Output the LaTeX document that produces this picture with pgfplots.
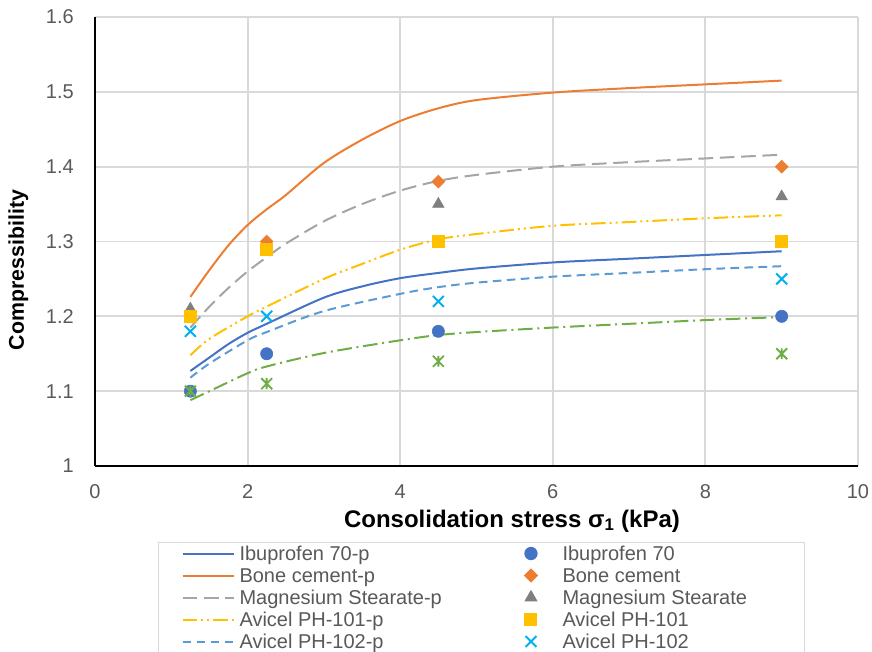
\documentclass[border=0pt]{standalone}
\usepackage{pgfplots}
\pgfplotsset{compat=1.18}
\usepackage{fontspec}
\setmainfont{Liberation Sans}

\definecolor{cIbu}{HTML}{4472C4}
\definecolor{cBone}{HTML}{ED7D31}
\definecolor{cMgLine}{HTML}{A5A5A5}
\definecolor{cMgMark}{HTML}{7F7F7F}
\definecolor{cAvA}{HTML}{FFC000}
\definecolor{cAvBLine}{HTML}{5B9BD5}
\definecolor{cAvBMark}{HTML}{00B0F0}
\definecolor{cGreen}{HTML}{70AD47}
\definecolor{cGrid}{HTML}{D9D9D9}
\definecolor{cTick}{HTML}{595959}

% cross with a vertical bar through it
\pgfdeclareplotmark{xstar}{%
  \pgfpathmoveto{\pgfqpoint{-.707\pgfplotmarksize}{-.707\pgfplotmarksize}}%
  \pgfpathlineto{\pgfqpoint{.707\pgfplotmarksize}{.707\pgfplotmarksize}}%
  \pgfpathmoveto{\pgfqpoint{-.707\pgfplotmarksize}{.707\pgfplotmarksize}}%
  \pgfpathlineto{\pgfqpoint{.707\pgfplotmarksize}{-.707\pgfplotmarksize}}%
  \pgfpathmoveto{\pgfqpoint{0pt}{-.707\pgfplotmarksize}}%
  \pgfpathlineto{\pgfqpoint{0pt}{.707\pgfplotmarksize}}%
  \pgfusepathqstroke}

\pgfplotsset{
  fitleg/.style={legend image code/.code={%
    \path[draw=none, fill=none] (0pt,-4pt) rectangle (42.75pt,4pt);
    \draw[##1] (0pt,0pt) -- (38.25pt,0pt);}},
  markleg/.style={legend image code/.code={%
    \path[draw=none, fill=none] (0pt,-4pt) rectangle (42.75pt,4pt);
    \draw[##1] plot coordinates {(19.1pt,0pt)};}},
  fit/.style={no marks, smooth, line width=1.5pt, line cap=butt, fitleg},
  pts/.style={only marks, markleg},
}

\begin{document}
\begin{tikzpicture}
\begin{axis}[
  scale only axis,
  width=572.25pt, height=336.75pt,
  xmin=0, xmax=10, ymin=1, ymax=1.6,
  xtick={0,2,4,6,8,10},
  ytick={1,1.1,1.2,1.3,1.4,1.5,1.6},
  axis x line*=bottom, axis y line*=left,
  axis line style={-, black, line width=0.9pt},
  grid=major,
  major grid style={draw=cGrid, line width=1.4pt},
  major tick length=0pt,
  /pgf/number format/assume math mode=true,
  tick label style={font=\fontsize{15}{18}\selectfont, text=cTick},
  xticklabel style={anchor=north, inner sep=0pt, yshift=-13.5pt},
  yticklabel style={anchor=east, inner sep=0pt, xshift=-15.75pt},
  xlabel={Consolidation stress σ\textsubscript{1} (kPa)},
  ylabel={Compressibility},
  xlabel style={at={(axis description cs:0.5465,-0.1225)}, anchor=center,
    font=\bfseries\fontsize{18}{21}\selectfont},
  ylabel style={at={(axis description cs:-0.1003,0.4365)}, anchor=center,
    font=\bfseries\fontsize{16}{19}\selectfont},
  legend columns=5,
  transpose legend,
  legend cell align=left,
  legend style={
    at={(axis description cs:0.0826,-0.1693)}, anchor=north west,
    draw=cGrid, line width=0.75pt,
    inner xsep=17.25pt, inner ysep=0pt,
    row sep=0pt, column sep=0pt,
    nodes={inner sep=0pt, text height=13.65pt, text depth=2.85pt,
      font=\fontsize{15}{18}\selectfont, text=cTick},
  },
]

% fitted curves
\addplot[fit, cIbu] coordinates {
  (1.25,1.127) (1.5,1.145) (1.75,1.163) (2,1.178) (2.25,1.190) (3,1.225)
  (3.5,1.240) (4,1.251) (4.5,1.258) (5,1.264) (6,1.272) (7,1.277) (8,1.282) (9,1.287)};
\addlegendentry{\makebox[199.5pt][l]{Ibuprofen 70-p}}

\addplot[fit, cBone] coordinates {
  (1.25,1.226) (1.5,1.262) (1.75,1.295) (2,1.322) (2.25,1.343) (2.5,1.362)
  (3,1.405) (3.5,1.436) (4,1.461) (4.5,1.478) (5,1.489) (6,1.499) (7,1.505) (8,1.510) (9,1.515)};
\addlegendentry{\makebox[199.5pt][l]{Bone cement-p}}

\addplot[fit, cMgLine, dash pattern=on 11pt off 5pt] coordinates {
  (1.25,1.185) (1.5,1.213) (1.75,1.238) (2,1.260) (2.25,1.279) (2.5,1.297)
  (3,1.327) (3.5,1.350) (4,1.368) (4.5,1.381) (5,1.389) (6,1.400) (7,1.406) (8,1.411) (9,1.416)};
\addlegendentry{\makebox[199.5pt][l]{Magnesium Stearate-p}}

\addplot[fit, cAvA, dash pattern=on 11pt off 3pt on 1.5pt off 3pt on 1.5pt off 3pt] coordinates {
  (1.25,1.148) (1.5,1.170) (2,1.200) (2.25,1.213) (3,1.250) (3.5,1.270)
  (4,1.289) (4.5,1.303) (5,1.310) (6,1.321) (7,1.326) (8,1.331) (9,1.335)};
\addlegendentry{\makebox[199.5pt][l]{Avicel PH-101-p}}

\addplot[fit, cAvBLine, dash pattern=on 6.5pt off 4pt] coordinates {
  (1.25,1.118) (1.5,1.137) (2,1.168) (2.25,1.179) (3,1.207) (4,1.230)
  (4.5,1.239) (5,1.245) (6,1.253) (7,1.258) (8,1.263) (9,1.267)};
\addlegendentry{\makebox[199.5pt][l]{Avicel PH-102-p}}

\addplot[fit, cGreen, dash pattern=on 11pt off 3.5pt on 1.5pt off 3.5pt, forget plot] coordinates {
  (1.25,1.088) (1.5,1.100) (2,1.124) (2.25,1.133) (3,1.151) (4,1.168)
  (4.5,1.175) (5,1.179) (6,1.185) (7,1.190) (8,1.195) (9,1.199)};

% measured values
\addplot[pts, mark=*, mark size=4.6pt, mark options={draw=cIbu, fill=cIbu}] coordinates {
  (1.25,1.10) (2.25,1.15) (4.5,1.18) (9,1.20)};
\addlegendentry{\makebox[164.25pt][l]{Ibuprofen 70}}

\addplot[pts, mark=square*, mark size=3.4pt, mark options={rotate=45, draw=cBone, fill=cBone}] coordinates {
  (1.25,1.20) (2.25,1.30) (4.5,1.38) (9,1.40)};
\addlegendentry{\makebox[164.25pt][l]{Bone cement}}

\addplot[pts, mark=triangle*, mark size=5pt, mark options={draw=cMgMark, fill=cMgMark}] coordinates {
  (1.25,1.21) (2.25,1.29) (4.5,1.35) (9,1.36)};
\addlegendentry{\makebox[164.25pt][l]{Magnesium Stearate}}

\addplot[pts, mark=square*, mark size=4.5pt, mark options={draw=cAvA, fill=cAvA}] coordinates {
  (1.25,1.20) (2.25,1.29) (4.5,1.30) (9,1.30)};
\addlegendentry{\makebox[164.25pt][l]{Avicel PH-101}}

\addplot[pts, mark=x, mark size=5.8pt, mark options={draw=cAvBMark, line width=1.5pt}] coordinates {
  (1.25,1.18) (2.25,1.20) (4.5,1.22) (9,1.25)};
\addlegendentry{\makebox[164.25pt][l]{Avicel PH-102}}

\addplot[pts, mark=xstar, mark size=5.8pt, mark options={draw=cGreen, line width=1.4pt}, forget plot] coordinates {
  (1.25,1.10) (2.25,1.11) (4.5,1.14) (9,1.15)};

\end{axis}
\pgfresetboundingbox
\path[use as bounding box] (-71.25pt,-138.75pt) rectangle (582.75pt,349.5pt);
\end{tikzpicture}
\end{document}
